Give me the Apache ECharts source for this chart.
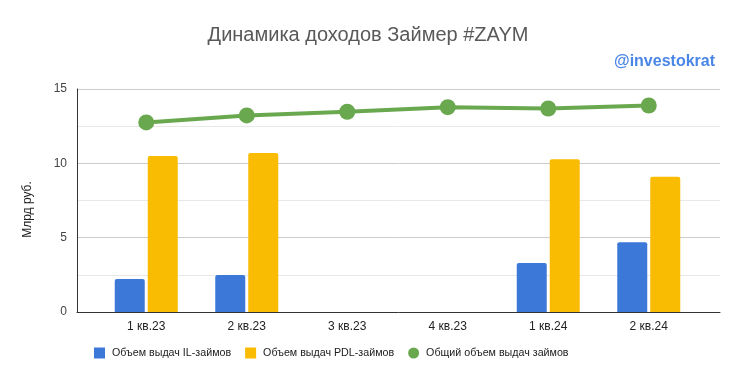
<!DOCTYPE html>
<html><head><meta charset="utf-8">
<script src="https://cdn.jsdelivr.net/npm/echarts@6/dist/echarts.min.js"></script>
<style>html,body{margin:0;padding:0;background:#fff}#c{width:736px;height:378px}</style>
</head><body><div id="c"></div>
<script>
const categories = ["1 кв.23","2 кв.23","3 кв.23","4 кв.23","1 кв.24","2 кв.24"];
const ilValues = [2.22, 2.49, null, null, 3.3, 4.69];
const pdlValues = [10.5, 10.7, null, null, 10.28, 9.09];
const totalValues = [12.75, 13.22, 13.47, 13.78, 13.69, 13.89];
const yTicks = [0, 5, 10, 15];
const seriesNames = ["Объем выдач IL-займов","Объем выдач PDL-займов","Общий объем выдач займов"];

const font = "Liberation Sans, Arial, sans-serif";
const chart = echarts.init(document.getElementById('c'), null, {renderer:'canvas'});
chart.setOption({
  animation:false,
  backgroundColor:'#fff',
  textStyle:{fontFamily:font},
  title:[
    {text:"Динамика доходов Займер #ZAYM", left:'center', top:20,
     textStyle:{fontFamily:font, fontSize:20, fontWeight:'normal', color:'#595959'}},
    {text:"@investokrat", right:16, top:49,
     textStyle:{fontFamily:font, fontSize:16, fontWeight:'bold', color:'#4a86e8'}}
  ],
  legend:{
    left:94, top:347.5, padding:0, itemWidth:11, itemHeight:11, itemGap:14,
    textStyle:{fontFamily:font, fontSize:10.7, color:'#222', padding:[0,0,0,2]},
    data:[{name:seriesNames[0], icon:'rect'},{name:seriesNames[1], icon:'rect'},{name:seriesNames[2], icon:'circle'}]
  },
  grid:[
    {left:77, right:16, top:89, bottom:66},
    {left:96, right:37, top:89, bottom:66}
  ],
  xAxis:[
    {gridIndex:0, type:'value', min:0, max:1, show:true,
     axisLine:{show:true, onZero:false, lineStyle:{color:'#333', width:1}},
     axisTick:{show:false}, axisLabel:{show:false}, splitLine:{show:false}},
    {gridIndex:1, type:'category', data:categories,
     axisLine:{show:false}, axisTick:{show:false},
     axisLabel:{fontFamily:font, fontSize:12, color:'#222', margin:9}}
  ],
  yAxis:[
    {gridIndex:0, type:'value', min:yTicks[0], max:yTicks[yTicks.length-1], interval:5,
     name:"Млрд руб.", nameLocation:'middle', nameGap:43, nameRotate:90,
     nameTextStyle:{fontFamily:font, fontSize:12, color:'#222', padding:[0,18,0,0]},
     axisLine:{show:true, lineStyle:{color:'#333'}}, axisTick:{show:false},
     axisLabel:{fontFamily:font, fontSize:12, color:'#444', margin:10},
     splitLine:{show:true, lineStyle:{color:'#cccccc'}},
     minorTick:{show:false, splitNumber:2},
     minorSplitLine:{show:true, lineStyle:{color:'#e8e8e8'}}},
    {gridIndex:1, type:'value', min:yTicks[0], max:yTicks[yTicks.length-1], show:false,
     splitLine:{show:false}}
  ],
  series:[
    {name:seriesNames[0], type:'bar', xAxisIndex:1, yAxisIndex:1, data:ilValues,
     barWidth:30, barGap:'10%', itemStyle:{color:'#3c78d8', borderRadius:[2,2,0,0]}},
    {name:seriesNames[1], type:'bar', xAxisIndex:1, yAxisIndex:1, data:pdlValues,
     barWidth:30, barGap:'10%', itemStyle:{color:'#f9bc02', borderRadius:[2,2,0,0]}},
    {name:seriesNames[2], type:'line', xAxisIndex:1, yAxisIndex:1, data:totalValues,
     symbol:'circle', symbolSize:16, lineStyle:{color:'#6aa84f', width:4},
     itemStyle:{color:'#6aa84f'}, z:5}
  ]
});
</script></body></html>
